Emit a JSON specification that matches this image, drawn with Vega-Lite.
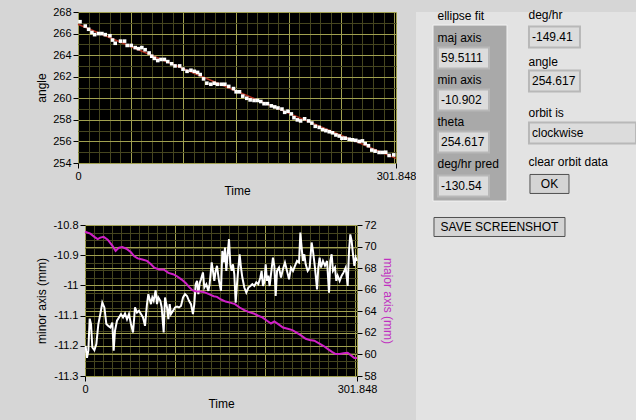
{
  "$schema": "https://vega.github.io/schema/vega-lite/v6.json",
  "background": "#d6d6d6",
  "padding": {"left": 34, "top": 6, "right": 0, "bottom": 0},
  "config": {
    "font": "Liberation Sans",
    "view": {"stroke": null},
    "axis": {
      "labelFont": "Liberation Sans", "labelFontSize": 11, "labelColor": "#000000",
      "titleFont": "Liberation Sans", "titleFontSize": 12, "titleFontWeight": "normal", "titleColor": "#000000",
      "tickColor": "#000000", "tickSize": 5, "labelPadding": 2, "titlePadding": 4,
      "domain": false, "labelFlush": false, "labelOverlap": false, "gridWidth": 1
    }
  },
  "datasets": {
    "angle": [
      {"t": 1.9, "a": 267.1}, {"t": 6.9, "a": 266.7}, {"t": 10.1, "a": 266.4}, {"t": 13.2, "a": 266.1},
      {"t": 15.8, "a": 265.9}, {"t": 19.6, "a": 266.0}, {"t": 22.7, "a": 266.0}, {"t": 25.9, "a": 265.9},
      {"t": 30.3, "a": 265.8}, {"t": 32.8, "a": 265.4}, {"t": 35.3, "a": 265.1}, {"t": 40.4, "a": 265.3},
      {"t": 44.2, "a": 265.3}, {"t": 46.7, "a": 264.9}, {"t": 50.5, "a": 264.9}, {"t": 54.3, "a": 264.7},
      {"t": 57.4, "a": 264.6}, {"t": 60.6, "a": 264.7}, {"t": 63.7, "a": 264.5}, {"t": 67.5, "a": 264.2},
      {"t": 70.0, "a": 263.9}, {"t": 72.5, "a": 263.7}, {"t": 75.7, "a": 263.5}, {"t": 78.8, "a": 263.6},
      {"t": 82.0, "a": 263.6}, {"t": 85.2, "a": 263.4}, {"t": 88.9, "a": 263.2}, {"t": 92.1, "a": 263.0},
      {"t": 96.5, "a": 263.0}, {"t": 99.7, "a": 262.7}, {"t": 103.5, "a": 262.5}, {"t": 107.2, "a": 262.6},
      {"t": 110.4, "a": 262.5}, {"t": 113.5, "a": 262.4}, {"t": 116.0, "a": 262.2}, {"t": 119.2, "a": 261.8},
      {"t": 122.3, "a": 261.4}, {"t": 126.1, "a": 261.3}, {"t": 129.3, "a": 261.4}, {"t": 132.4, "a": 261.3},
      {"t": 136.2, "a": 261.3}, {"t": 139.4, "a": 261.3}, {"t": 143.1, "a": 261.1}, {"t": 147.6, "a": 260.9},
      {"t": 150.1, "a": 260.6}, {"t": 153.3, "a": 260.6}, {"t": 156.4, "a": 260.2}, {"t": 160.2, "a": 260.0},
      {"t": 163.4, "a": 259.85}, {"t": 167.1, "a": 259.8}, {"t": 170.3, "a": 259.8}, {"t": 173.5, "a": 259.7},
      {"t": 176.6, "a": 259.5}, {"t": 179.8, "a": 259.5}, {"t": 183.5, "a": 259.3}, {"t": 186.7, "a": 259.2},
      {"t": 189.8, "a": 259.1}, {"t": 193.6, "a": 259.0}, {"t": 196.2, "a": 258.7}, {"t": 199.3, "a": 258.8},
      {"t": 202.5, "a": 258.55}, {"t": 205.0, "a": 258.2}, {"t": 208.2, "a": 258.0}, {"t": 211.3, "a": 257.9},
      {"t": 215.1, "a": 258.1}, {"t": 218.9, "a": 257.9}, {"t": 222.0, "a": 257.7}, {"t": 225.2, "a": 257.4},
      {"t": 229.0, "a": 257.3}, {"t": 232.2, "a": 257.1}, {"t": 235.3, "a": 257.0}, {"t": 238.5, "a": 256.9},
      {"t": 241.6, "a": 256.8}, {"t": 244.8, "a": 256.6}, {"t": 248.0, "a": 256.5}, {"t": 250.5, "a": 256.3},
      {"t": 253.6, "a": 256.3}, {"t": 257.4, "a": 256.2}, {"t": 260.5, "a": 256.15}, {"t": 263.7, "a": 256.1},
      {"t": 266.9, "a": 256.0}, {"t": 270.0, "a": 256.05}, {"t": 272.6, "a": 255.8}, {"t": 275.7, "a": 255.6},
      {"t": 278.9, "a": 255.2}, {"t": 282.0, "a": 255.1}, {"t": 285.8, "a": 254.98}, {"t": 289.0, "a": 254.98},
      {"t": 292.1, "a": 255.0}, {"t": 295.3, "a": 254.7}, {"t": 299.7, "a": 254.75}
    ],
    "fit": [
      {"t": 0, "a": 266.86}, {"t": 301.848, "a": 254.43}
    ],
    "major": [
      {"t": 0, "mm": 71.38}, {"t": 5.9, "mm": 71.2}, {"t": 10.4, "mm": 70.9}, {"t": 14.1, "mm": 70.7},
      {"t": 17.0, "mm": 70.83}, {"t": 20.7, "mm": 70.9}, {"t": 25.2, "mm": 70.64}, {"t": 30.3, "mm": 70.09},
      {"t": 34.0, "mm": 69.6}, {"t": 37.7, "mm": 69.9}, {"t": 41.4, "mm": 69.96}, {"t": 45.9, "mm": 69.8},
      {"t": 51.0, "mm": 69.47}, {"t": 54.7, "mm": 69.1}, {"t": 58.4, "mm": 68.9}, {"t": 63.6, "mm": 68.8},
      {"t": 68.8, "mm": 68.67}, {"t": 73.2, "mm": 68.36}, {"t": 76.9, "mm": 68.05}, {"t": 82.1, "mm": 67.87},
      {"t": 87.3, "mm": 67.87}, {"t": 92.5, "mm": 67.56}, {"t": 97.7, "mm": 67.44}, {"t": 102.1, "mm": 67.25},
      {"t": 107.3, "mm": 66.94}, {"t": 111.7, "mm": 66.63}, {"t": 115.4, "mm": 66.26}, {"t": 119.1, "mm": 65.96},
      {"t": 123.5, "mm": 65.83}, {"t": 127.9, "mm": 65.83}, {"t": 132.2, "mm": 65.77}, {"t": 137.6, "mm": 65.59},
      {"t": 142.8, "mm": 65.4}, {"t": 146.5, "mm": 65.34}, {"t": 150.9, "mm": 65.09}, {"t": 156.1, "mm": 64.9},
      {"t": 162.0, "mm": 64.78}, {"t": 166.5, "mm": 64.66}, {"t": 171.6, "mm": 64.35}, {"t": 176.8, "mm": 64.1},
      {"t": 182.0, "mm": 63.92}, {"t": 187.2, "mm": 63.8}, {"t": 191.6, "mm": 63.61}, {"t": 196.8, "mm": 63.43},
      {"t": 202.0, "mm": 63.12}, {"t": 206.4, "mm": 62.87}, {"t": 210.1, "mm": 63.06}, {"t": 214.5, "mm": 62.81},
      {"t": 219.7, "mm": 62.5}, {"t": 224.9, "mm": 62.38}, {"t": 230.1, "mm": 62.26}, {"t": 235.3, "mm": 62.0},
      {"t": 239.7, "mm": 61.76}, {"t": 244.9, "mm": 61.45}, {"t": 249.3, "mm": 61.33}, {"t": 254.5, "mm": 61.27},
      {"t": 259.7, "mm": 61.02}, {"t": 264.9, "mm": 60.78}, {"t": 270.0, "mm": 60.47}, {"t": 274.5, "mm": 60.22},
      {"t": 278.2, "mm": 60.04}, {"t": 282.6, "mm": 60.04}, {"t": 287.0, "mm": 60.1}, {"t": 291.5, "mm": 60.16},
      {"t": 295.2, "mm": 59.91}, {"t": 298.9, "mm": 59.67}, {"t": 301.8, "mm": 59.67}
    ],
    "minor": [
      {"t": 0.7, "mm": -11.2}, {"t": 2.2, "mm": -11.24}, {"t": 3.7, "mm": -11.216}, {"t": 5.2, "mm": -11.11},
      {"t": 6.7, "mm": -11.128}, {"t": 8.1, "mm": -11.205}, {"t": 10.4, "mm": -11.214}, {"t": 12.6, "mm": -11.194},
      {"t": 14.8, "mm": -11.128}, {"t": 17.0, "mm": -11.095}, {"t": 19.2, "mm": -11.057}, {"t": 21.5, "mm": -11.073},
      {"t": 23.7, "mm": -11.128}, {"t": 25.9, "mm": -11.134}, {"t": 28.1, "mm": -11.139}, {"t": 30.3, "mm": -11.123},
      {"t": 31.8, "mm": -11.216}, {"t": 33.3, "mm": -11.15}, {"t": 35.5, "mm": -11.117}, {"t": 37.7, "mm": -11.106},
      {"t": 39.9, "mm": -11.095}, {"t": 42.2, "mm": -11.106}, {"t": 44.4, "mm": -11.093}, {"t": 46.6, "mm": -11.112},
      {"t": 48.8, "mm": -11.095}, {"t": 51.0, "mm": -11.128}, {"t": 53.3, "mm": -11.156}, {"t": 55.5, "mm": -11.073},
      {"t": 57.7, "mm": -11.09}, {"t": 59.9, "mm": -11.084}, {"t": 62.1, "mm": -11.095}, {"t": 64.4, "mm": -11.106},
      {"t": 66.6, "mm": -11.134}, {"t": 68.8, "mm": -11.062}, {"t": 70.3, "mm": -11.029}, {"t": 71.8, "mm": -11.046},
      {"t": 73.2, "mm": -11.062}, {"t": 74.7, "mm": -11.04}, {"t": 76.2, "mm": -11.051}, {"t": 78.4, "mm": -11.016},
      {"t": 79.9, "mm": -11.062}, {"t": 81.4, "mm": -11.04}, {"t": 83.6, "mm": -11.051}, {"t": 85.1, "mm": -11.073},
      {"t": 87.3, "mm": -11.156}, {"t": 88.8, "mm": -11.04}, {"t": 91.0, "mm": -11.073}, {"t": 92.5, "mm": -11.112},
      {"t": 94.0, "mm": -11.062}, {"t": 95.4, "mm": -11.095}, {"t": 97.7, "mm": -11.084}, {"t": 99.9, "mm": -11.073},
      {"t": 102.1, "mm": -11.07}, {"t": 104.3, "mm": -11.073}, {"t": 106.5, "mm": -11.068}, {"t": 108.8, "mm": -11.04},
      {"t": 111.0, "mm": -11.029}, {"t": 113.2, "mm": -11.035}, {"t": 115.4, "mm": -11.051}, {"t": 117.6, "mm": -11.062},
      {"t": 119.8, "mm": -11.095}, {"t": 121.3, "mm": -11.062}, {"t": 122.8, "mm": -10.996}, {"t": 124.3, "mm": -10.985},
      {"t": 125.8, "mm": -11.029}, {"t": 127.3, "mm": -10.992}, {"t": 128.7, "mm": -10.98}, {"t": 130.9, "mm": -10.957},
      {"t": 132.4, "mm": -11.007}, {"t": 134.6, "mm": -10.996}, {"t": 136.9, "mm": -11.018}, {"t": 138.3, "mm": -10.996},
      {"t": 140.6, "mm": -10.924}, {"t": 142.0, "mm": -10.952}, {"t": 143.5, "mm": -10.985}, {"t": 145.0, "mm": -10.952},
      {"t": 146.5, "mm": -10.935}, {"t": 148.7, "mm": -10.985}, {"t": 150.9, "mm": -11.018}, {"t": 152.4, "mm": -10.886},
      {"t": 153.9, "mm": -10.924}, {"t": 155.4, "mm": -10.875}, {"t": 156.8, "mm": -10.952}, {"t": 158.3, "mm": -10.897},
      {"t": 159.8, "mm": -10.847}, {"t": 161.3, "mm": -10.93}, {"t": 162.8, "mm": -10.952}, {"t": 164.2, "mm": -10.93},
      {"t": 165.7, "mm": -10.963}, {"t": 167.2, "mm": -11.057}, {"t": 168.7, "mm": -10.996}, {"t": 170.2, "mm": -10.941},
      {"t": 171.6, "mm": -10.897}, {"t": 173.1, "mm": -10.941}, {"t": 174.6, "mm": -10.974}, {"t": 176.8, "mm": -11.007},
      {"t": 179.0, "mm": -11.024}, {"t": 181.3, "mm": -11.007}, {"t": 183.5, "mm": -11.002}, {"t": 185.7, "mm": -10.996},
      {"t": 187.9, "mm": -11.002}, {"t": 190.1, "mm": -10.99}, {"t": 192.3, "mm": -10.996}, {"t": 194.6, "mm": -10.974},
      {"t": 196.0, "mm": -10.952}, {"t": 197.5, "mm": -11.002}, {"t": 199.0, "mm": -10.99}, {"t": 200.5, "mm": -10.93},
      {"t": 202.0, "mm": -10.985}, {"t": 203.4, "mm": -10.968}, {"t": 204.9, "mm": -11.002}, {"t": 206.4, "mm": -10.963},
      {"t": 208.6, "mm": -10.908}, {"t": 210.1, "mm": -10.935}, {"t": 211.6, "mm": -11.035}, {"t": 213.1, "mm": -10.952},
      {"t": 215.3, "mm": -10.941}, {"t": 217.5, "mm": -10.974}, {"t": 219.7, "mm": -10.946}, {"t": 221.9, "mm": -10.924},
      {"t": 224.2, "mm": -10.952}, {"t": 226.4, "mm": -10.98}, {"t": 228.6, "mm": -10.941}, {"t": 230.8, "mm": -10.952},
      {"t": 233.0, "mm": -10.935}, {"t": 235.3, "mm": -10.919}, {"t": 237.5, "mm": -10.924}, {"t": 239.0, "mm": -10.825},
      {"t": 240.4, "mm": -10.875}, {"t": 241.9, "mm": -10.919}, {"t": 243.4, "mm": -10.897}, {"t": 244.9, "mm": -10.93},
      {"t": 247.1, "mm": -10.952}, {"t": 249.3, "mm": -10.941}, {"t": 251.5, "mm": -10.858}, {"t": 253.0, "mm": -10.886},
      {"t": 255.2, "mm": -10.941}, {"t": 257.5, "mm": -11.013}, {"t": 258.9, "mm": -10.941}, {"t": 260.4, "mm": -10.908},
      {"t": 261.9, "mm": -10.941}, {"t": 264.1, "mm": -10.919}, {"t": 266.3, "mm": -10.935}, {"t": 268.6, "mm": -10.919},
      {"t": 270.8, "mm": -11.024}, {"t": 272.2, "mm": -10.919}, {"t": 273.7, "mm": -10.897}, {"t": 275.2, "mm": -10.952},
      {"t": 277.4, "mm": -10.941}, {"t": 278.9, "mm": -10.985}, {"t": 280.4, "mm": -10.968}, {"t": 282.6, "mm": -10.985},
      {"t": 284.8, "mm": -10.968}, {"t": 287.0, "mm": -10.957}, {"t": 289.3, "mm": -10.941}, {"t": 291.5, "mm": -11.002},
      {"t": 293.0, "mm": -10.886}, {"t": 294.4, "mm": -10.831}, {"t": 295.9, "mm": -10.853}, {"t": 297.4, "mm": -10.897},
      {"t": 298.9, "mm": -10.935}, {"t": 300.4, "mm": -10.908}, {"t": 301.8, "mm": -10.919}
    ],
    "panel": [
      {"kind": "group", "col": 0, "row": 4.6, "text": ""},
      {"kind": "label", "col": 0, "row": 0, "text": "ellipse fit"},
      {"kind": "label", "col": 0, "row": 1.04, "text": "maj axis"},
      {"kind": "value", "col": 0, "row": 1.99, "text": "59.5111"},
      {"kind": "label", "col": 0, "row": 3.03, "text": "min axis"},
      {"kind": "value", "col": 0, "row": 3.98, "text": "-10.9029"},
      {"kind": "label", "col": 0, "row": 5.02, "text": "theta"},
      {"kind": "value", "col": 0, "row": 5.97, "text": "254.617"},
      {"kind": "label", "col": 0, "row": 7.01, "text": "deg/hr pred"},
      {"kind": "value", "col": 0, "row": 8.06, "text": "-130.54"},
      {"kind": "widebutton", "col": 0, "row": 10.0, "text": "SAVE SCREENSHOT"},
      {"kind": "label", "col": 1, "row": -0.05, "text": "deg/hr"},
      {"kind": "value", "col": 1, "row": 1.0, "text": "-149.41"},
      {"kind": "label", "col": 1, "row": 2.18, "text": "angle"},
      {"kind": "value", "col": 1, "row": 3.08, "text": "254.617"},
      {"kind": "label", "col": 1, "row": 4.6, "text": "orbit is"},
      {"kind": "widevalue", "col": 1, "row": 5.55, "text": "clockwise"},
      {"kind": "label", "col": 1, "row": 6.92, "text": "clear orbit data"},
      {"kind": "button", "col": 1, "row": 7.96, "text": "OK"}
    ]
  },
  "spacing": 0,
  "hconcat": [
    {
      "spacing": 23,
      "vconcat": [
        {
          "spacing": 0,
          "hconcat": [
            {
              "width": 1, "height": 1,
              "data": {"values": [{}]},
              "mark": {"type": "text", "text": ""}
            },
            {
              "width": 318,
              "height": 151,
              "view": {"fill": "#000000", "stroke": null},
              "encoding": {
                "x": {
                  "field": "t", "type": "quantitative",
                  "scale": {"domain": [0, 301.848], "nice": false, "zero": false},
                  "axis": {
                    "title": "Time",
                    "values": [0, 10, 20, 30, 40, 50, 60, 70, 80, 90, 100, 110, 120, 130, 140, 150, 160, 170, 180, 190, 200, 210, 220, 230, 240, 250, 260, 270, 280, 290, 300, 301.848],
                    "grid": true,
                    "gridColor": {"condition": {"test": "datum.value % 50 == 0 || datum.value > 301", "value": "#a0a050"}, "value": "#45451f"},
                    "tickOpacity": {"condition": {"test": "datum.value == 0 || datum.value > 301", "value": 1}, "value": 0},
                    "labelExpr": "datum.value == 0 || datum.value > 301 ? format(datum.value, '~g') : ''"
                  }
                },
                "y": {
                  "field": "a", "type": "quantitative",
                  "scale": {"domain": [254, 268], "nice": false, "zero": false},
                  "axis": {
                    "title": "angle",
                    "values": [254, 255, 256, 257, 258, 259, 260, 261, 262, 263, 264, 265, 266, 267, 268],
                    "grid": true,
                    "gridColor": {"condition": {"test": "datum.value % 2 == 0", "value": "#a0a050"}, "value": "#45451f"},
                    "tickOpacity": {"condition": {"test": "datum.value % 2 == 0", "value": 1}, "value": 0},
                    "labelExpr": "datum.value % 2 == 0 ? format(datum.value, 'd') : ''"
                  }
                }
              },
              "layer": [
                {
                  "data": {"name": "fit"},
                  "mark": {"type": "line", "color": "#b03020", "strokeWidth": 1.5}
                },
                {
                  "data": {"name": "angle"},
                  "mark": {"type": "square", "color": "#ffffff", "filled": true, "opacity": 1, "size": 13}
                }
              ]
            }
          ]
        },
        {
          "spacing": 0,
          "hconcat": [
            {
              "width": 1, "height": 1,
              "data": {"values": [{}]},
              "mark": {"type": "text", "text": ""}
            },
            {
              "width": 272,
              "height": 151,
              "view": {"fill": "#000000", "stroke": null},
              "encoding": {
                "x": {
                  "field": "t", "type": "quantitative",
                  "scale": {"domain": [0, 301.848], "nice": false, "zero": false},
                  "axis": {
                    "title": "Time",
                    "values": [0, 10, 20, 30, 40, 50, 60, 70, 80, 90, 100, 110, 120, 130, 140, 150, 160, 170, 180, 190, 200, 210, 220, 230, 240, 250, 260, 270, 280, 290, 300, 301.848],
                    "grid": true,
                    "gridColor": {"condition": {"test": "datum.value % 100 == 0 || datum.value > 301", "value": "#a0a050"}, "value": "#45451f"},
                    "tickOpacity": {"condition": {"test": "datum.value == 0 || datum.value > 301", "value": 1}, "value": 0},
                    "labelExpr": "datum.value == 0 || datum.value > 301 ? format(datum.value, '~g') : ''"
                  }
                }
              },
              "layer": [
                {
                  "data": {"name": "minor"},
                  "mark": {"type": "line", "color": "#ffffff", "strokeWidth": 2},
                  "encoding": {
                    "y": {
                      "field": "mm", "type": "quantitative",
                      "scale": {"domain": [-11.3, -10.8], "nice": false, "zero": false},
                      "axis": {
                        "title": "minor axis (mm)",
                        "values": [-11.3, -11.275, -11.25, -11.225, -11.2, -11.175, -11.15, -11.125, -11.1, -11.075, -11.05, -11.025, -11, -10.975, -10.95, -10.925, -10.9, -10.875, -10.85, -10.825, -10.8],
                        "grid": true,
                        "gridColor": {"condition": {"test": "abs(datum.value * 10 - round(datum.value * 10)) < 0.001", "value": "#a0a050"}, "value": "#45451f"},
                        "tickOpacity": {"condition": {"test": "abs(datum.value * 10 - round(datum.value * 10)) < 0.001", "value": 1}, "value": 0},
                        "labelExpr": "abs(datum.value * 10 - round(datum.value * 10)) < 0.001 ? replace(format(datum.value, '.1~f'), '\u2212', '-') : ''"
                      }
                    }
                  }
                },
                {
                  "data": {"name": "major"},
                  "mark": {"type": "line", "color": "#d020c8", "strokeWidth": 2},
                  "encoding": {
                    "y": {
                      "field": "mm", "type": "quantitative",
                      "scale": {"domain": [58, 72], "nice": false, "zero": false},
                      "axis": {
                        "orient": "right",
                        "title": "major axis (mm)",
                        "titleColor": "#c030c0",
                        "values": [58, 60, 62, 64, 66, 68, 70, 72],
                        "grid": true,
                        "gridColor": "#a0a050",
                        "format": "d"
                      }
                    }
                  }
                }
              ],
              "resolve": {"scale": {"y": "independent"}}
            }
          ]
        }
      ]
    },
    {
      "width": 222,
      "height": 411,
      "view": {"fill": "#e3e3e3", "stroke": null},
      "data": {"name": "panel"},
      "encoding": {
        "x": {"field": "col", "type": "quantitative", "axis": null, "scale": {"domain": [-0.522, 1.918], "nice": false, "zero": false}},
        "y": {"field": "row", "type": "quantitative", "axis": null, "scale": {"domain": [-0.19, 19.29], "nice": false, "zero": false, "reverse": true}}
      },
      "layer": [
        {
          "transform": [{"filter": "datum.kind == 'group'"}],
          "mark": {"type": "rect", "width": 74, "height": 176, "xOffset": 6.5, "fill": "#a9a9a9", "stroke": "#f2f2f2", "strokeWidth": 1}
        },
        {
          "transform": [{"filter": "datum.kind == 'value'"}],
          "mark": {"type": "rect", "width": 51, "height": 21, "fill": "#dcdcdc", "stroke": "#b8b8b8", "strokeWidth": 2}
        },
        {
          "transform": [{"filter": "datum.kind == 'widevalue'"}],
          "mark": {"type": "rect", "width": 107, "height": 21, "xOffset": 28, "fill": "#dcdcdc", "stroke": "#b8b8b8", "strokeWidth": 2}
        },
        {
          "transform": [{"filter": "datum.kind == 'button'"}],
          "mark": {"type": "rect", "width": 39, "height": 19, "xOffset": -5, "fill": "#d4d4d4", "stroke": "#505050", "strokeWidth": 1}
        },
        {
          "transform": [{"filter": "datum.kind == 'widebutton'"}],
          "mark": {"type": "rect", "width": 131, "height": 19, "xOffset": 36, "fill": "#d4d4d4", "stroke": "#505050", "strokeWidth": 1}
        },
        {
          "transform": [{"filter": "datum.kind == 'label'"}],
          "mark": {"type": "text", "align": "left", "baseline": "middle", "dx": -26, "fontSize": 12, "font": "Liberation Sans", "color": "#000000"},
          "encoding": {"text": {"field": "text"}}
        },
        {
          "transform": [{"filter": "datum.kind == 'value'"}],
          "mark": {"type": "text", "align": "left", "baseline": "middle", "dx": -22.5, "fontSize": 12, "font": "Liberation Sans", "color": "#000000", "limit": 47, "ellipsis": "\u200b"},
          "encoding": {"text": {"field": "text"}}
        },
        {
          "transform": [{"filter": "datum.kind == 'widevalue'"}],
          "mark": {"type": "text", "align": "left", "baseline": "middle", "dx": -22.5, "fontSize": 12, "font": "Liberation Sans", "color": "#000000"},
          "encoding": {"text": {"field": "text"}}
        },
        {
          "transform": [{"filter": "datum.kind == 'button'"}],
          "mark": {"type": "text", "align": "center", "baseline": "middle", "dx": -5, "fontSize": 12, "font": "Liberation Sans", "color": "#000000"},
          "encoding": {"text": {"field": "text"}}
        },
        {
          "transform": [{"filter": "datum.kind == 'widebutton'"}],
          "mark": {"type": "text", "align": "center", "baseline": "middle", "dx": 36, "fontSize": 12, "font": "Liberation Sans", "color": "#000000"},
          "encoding": {"text": {"field": "text"}}
        }
      ]
    }
  ]
}
